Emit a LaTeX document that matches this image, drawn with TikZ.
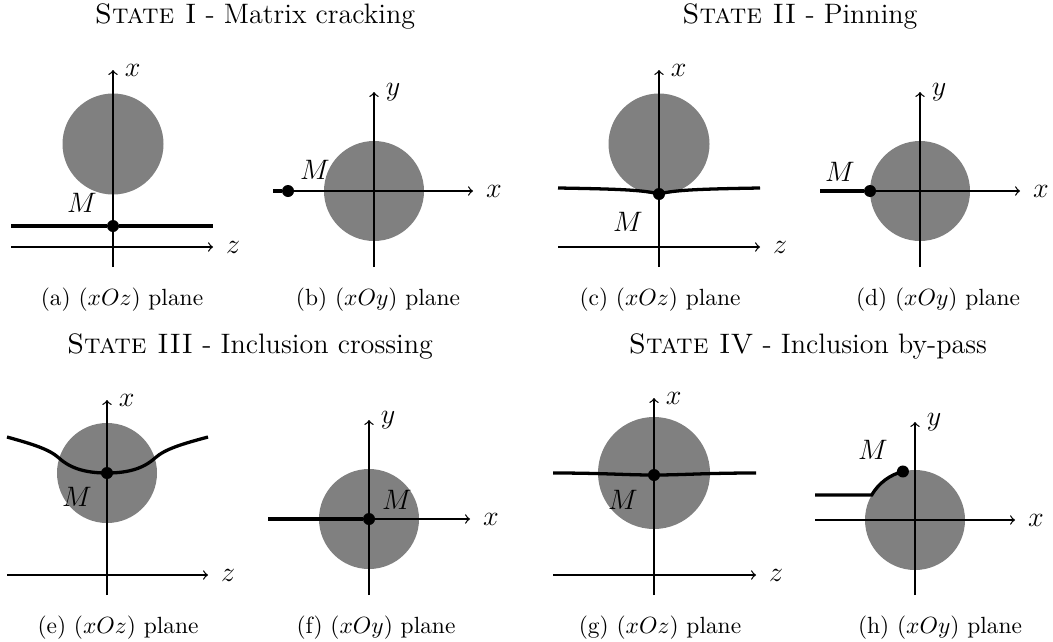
\documentclass[tikz,border=0pt]{standalone}
\usepackage{tikz}

\begin{document}
\begin{tikzpicture}[
  x=0.015cm, y=0.015cm,
  % ── Style definitions ──
  axisline/.style={->, line width=0.55pt},
  incl/.style={fill=black!50, draw=none},
  crack/.style={line width=1.4pt},
  tipdot/.style={circle, fill=black, inner sep=0pt, minimum size=0.18cm},
  axlbl/.style={font=\fontsize{13}{15}\selectfont},
  mlbl/.style={font=\large, inner sep=1pt},
  statetitle/.style={font=\large, anchor=base},
  capt/.style={anchor=base}
]
\useasboundingbox (0,0) rectangle (1053,-641);

% ─────────── Titles ─────────────────────────────────────────
\node[statetitle] (t1) at (255,-24)  {\textsc{State I} - Matrix cracking};
\node[statetitle] (t2) at (800,-24)  {\textsc{State II} - Pinning};
\node[statetitle] (t3) at (250,-353) {\textsc{State III} - Inclusion crossing};
\node[statetitle] (t4) at (808,-353) {\textsc{State IV} - Inclusion by-pass};

% ─────────── (a) xOz, matrix cracking ───────────────────────
\begin{scope}[shift={(113,-247)}]
  \fill[incl] (0,103) circle[radius=50.5];
  \draw[axisline] (0,-20) -- (0,177) node[axlbl, right=1.5pt] (xa) {$x$};
  \draw[axisline] (-102,0) -- (100,0) node[axlbl, right=2pt] (za) {$z$};
  \node[tipdot] (Ma) at (0,21) {};
  \draw[crack] (-102,21) -- (Ma) -- (100,21);
  \node[mlbl] (Mla) at (-31,44) {$M$};
\end{scope}
\node[capt] (capa) at (122,-305) {(a) $(xOz)$ plane};

% ─────────── (b) xOy, matrix cracking ───────────────────────
\begin{scope}[shift={(374,-191)}]
  \fill[incl] (0,0) circle[radius=50];
  \draw[axisline] (0,-76) -- (0,99) node[axlbl, right=1.5pt] (yb) {$y$};
  \draw[axisline] (-101,0) -- (99,0) node[axlbl, right=2pt] (xb) {$x$};
  \node[tipdot] (Mb) at (-86,0) {};
  \draw[crack] (-101,0) -- (Mb);
  \node[mlbl] (Mlb) at (-59,21) {$M$};
\end{scope}
\node[capt] (capb) at (378,-305) {(b) $(xOy)$ plane};

% ─────────── (c) xOz, pinning ───────────────────────────────
\begin{scope}[shift={(659,-247)}]
  \fill[incl] (0,103) circle[radius=50.5];
  \draw[axisline] (0,-20) -- (0,177) node[axlbl, right=1.5pt] (xc) {$x$};
  \draw[axisline] (-101,0) -- (101,0) node[axlbl, right=2pt] (zc) {$z$};
  \node[tipdot] (Mc) at (0,53) {};
  \draw[crack] (-101,59) .. controls (-40,58) and (-15,57) .. (Mc.center)
               .. controls (15,57) and (40,58) .. (101,59);
  \node[mlbl] (Mlc) at (-31,25) {$M$};
\end{scope}
\node[capt] (capc) at (660,-305) {(c) $(xOz)$ plane};

% ─────────── (d) xOy, pinning ───────────────────────────────
\begin{scope}[shift={(920,-191)}]
  \fill[incl] (0,0) circle[radius=50];
  \draw[axisline] (0,-76) -- (0,99) node[axlbl, right=1.5pt] (yd) {$y$};
  \draw[axisline] (-100,0) -- (100,0) node[axlbl, right=2pt] (xd) {$x$};
  \node[tipdot] (Md) at (-50,0) {};
  \draw[crack] (-100,0) -- (Md);
  \node[mlbl] (Mld) at (-80,19) {$M$};
\end{scope}
\node[capt] (capd) at (938,-305) {(d) $(xOy)$ plane};

% ─────────── (e) xOz, inclusion crossing ────────────────────
\begin{scope}[shift={(107,-575)}]
  \fill[incl] (0,102) circle[radius=50];
  \draw[axisline] (0,-20) -- (0,175) node[axlbl, right=1.5pt] (xe) {$x$};
  \draw[axisline] (-100,0) -- (101,0) node[axlbl, right=2pt] (ze) {$z$};
  \node[tipdot] (Me) at (0,102) {};
  \draw[crack] (-100,138) .. controls (-75,131) and (-58,126) .. (-48,117)
               .. controls (-36,106) and (-20,102) .. (Me.center)
               .. controls (20,102) and (36,106) .. (48,117)
               .. controls (58,126) and (75,131) .. (101,138);
  \node[mlbl] (Mle) at (-30,78) {$M$};
\end{scope}
\node[capt] (cape) at (118,-633) {(e) $(xOz)$ plane};

% ─────────── (f) xOy, inclusion crossing ────────────────────
\begin{scope}[shift={(369,-519)}]
  \fill[incl] (0,0) circle[radius=50];
  \draw[axisline] (0,-76) -- (0,99) node[axlbl, right=1.5pt] (yf) {$y$};
  \draw[axisline] (-101,0) -- (101,0) node[axlbl, right=2pt] (xf) {$x$};
  \node[tipdot] (Mf) at (0,0) {};
  \draw[crack] (-101,0) -- (Mf);
  \node[mlbl] (Mlf) at (28,19) {$M$};
\end{scope}
\node[capt] (capf) at (376,-633) {(f) $(xOy)$ plane};

% ─────────── (g) xOz, inclusion by-pass ─────────────────────
\begin{scope}[shift={(654,-575)}]
  \fill[incl] (0,102) circle[radius=56];
  \draw[axisline] (0,-20) -- (0,177) node[axlbl, right=1.5pt] (xg) {$x$};
  \draw[axisline] (-101,0) -- (102,0) node[axlbl, right=2pt] (zg) {$z$};
  \node[tipdot] (Mg) at (0,100) {};
  \draw[crack] (-101,102) .. controls (-50,102) and (-30,100) .. (Mg.center)
               .. controls (30,100) and (50,102) .. (102,102);
  \node[mlbl] (Mlg) at (-31,75) {$M$};
\end{scope}
\node[capt] (capg) at (660,-633) {(g) $(xOz)$ plane};

% ─────────── (h) xOy, inclusion by-pass ─────────────────────
\begin{scope}[shift={(915,-520)}]
  \fill[incl] (0,0) circle[radius=50];
  \draw[axisline] (0,-75) -- (0,98) node[axlbl, right=1.5pt] (yh) {$y$};
  \draw[axisline] (-100,0) -- (100,0) node[axlbl, right=2pt] (xh) {$x$};
  \coordinate (kh) at (150:50);
  \draw[crack] (-100,25) -- (kh) arc[start angle=150, end angle=104, radius=50]
    coordinate (eh);
  \node[tipdot] (Mh) at (eh) {};
  \node[mlbl] (Mlh) at (-42,70) {$M$};
\end{scope}
\node[capt] (caph) at (940,-633) {(h) $(xOy)$ plane};
\end{tikzpicture}
\end{document}
